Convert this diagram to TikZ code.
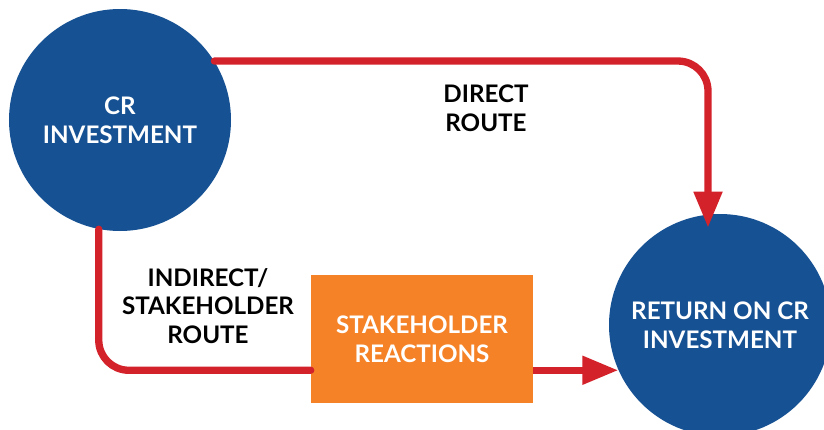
\documentclass[tikz,border=0pt]{standalone}
\usepackage{fontspec}
\setmainfont{Lato}
\usetikzlibrary{arrows.meta, calc, positioning}

\definecolor{crblue}{RGB}{22,81,147}
\definecolor{crred}{RGB}{212,34,42}
\definecolor{crorange}{RGB}{245,130,38}

\begin{document}
\begin{tikzpicture}[
    font=\fontsize{17.2}{20.5}\selectfont\bfseries,
    bubble/.style={circle, fill=crblue, text=white, align=center,
                   minimum size=5.55cm, inner sep=0pt},
    reactbox/.style={rectangle, fill=crorange, text=white, align=center,
                     minimum width=5.55cm, minimum height=3.2cm, inner sep=0pt},
    route/.style={crred, line width=5.2pt, rounded corners=0.75cm},
    routearrow/.style={route, -{Triangle[length=0.9cm, width=0.68cm]}},
    tag/.style={text=black, align=center}
]
\useasboundingbox (0,0) rectangle (20.6,10.725);
\clip (0,0) rectangle (20.6,10.725);

% the two circles and the box between them
\node[bubble] (invest) at (3.0,7.725) {CR\\INVESTMENT};
\node[bubble] (return) at (18.0,2.6) {RETURN ON CR\\INVESTMENT};
\node[reactbox] (reactions) at (10.55,2.25) {STAKEHOLDER\\REACTIONS};

% direct route over the top
\draw[routearrow, line cap=round] (invest.32) -| ($(return.north)+(-0.3,-0.35)$);
\node[tag] (direct) at (12.15,8.025) {DIRECT\\ROUTE};

% indirect route through the box
\draw[route, line cap=round] (invest.259) |- (reactions.west |- return.204);
\draw[routearrow] (reactions.east |- return.204) -- (return.204);
\node[tag] (indirect) at (5.2,3.075) {INDIRECT/\\STAKEHOLDER\\ROUTE};
\end{tikzpicture}
\end{document}
